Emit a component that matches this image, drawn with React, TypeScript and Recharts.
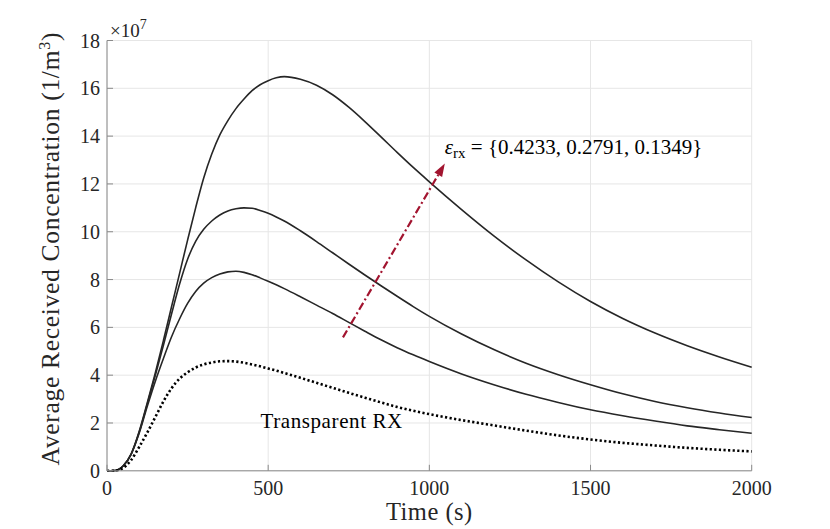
import { CartesianGrid, Line, LineChart, ReferenceDot, ReferenceLine, XAxis, YAxis } from "recharts"

// time in seconds, concentrations in units of 1e7 (1/m^3)
const time = [0, 25, 50, 75, 100, 125, 150, 175, 200, 225, 250, 275, 300, 325, 350, 375, 400, 425, 450, 475, 500, 525, 550, 600, 650, 700, 750, 800, 850, 900, 950, 1000, 1100, 1200, 1300, 1400, 1500, 1600, 1700, 1800, 1900, 2000]
const upper = [0, 0.01, 0.2, 0.7, 1.65, 2.85, 4.1, 5.45, 6.85, 8.25, 9.65, 11.0, 12.25, 13.25, 14.05, 14.65, 15.15, 15.55, 15.9, 16.15, 16.32, 16.44, 16.49, 16.38, 16.13, 15.73, 15.21, 14.61, 13.97, 13.32, 12.69, 12.09, 10.93, 9.83, 8.82, 7.9, 7.08, 6.37, 5.76, 5.23, 4.76, 4.33]
const middle = [0, 0.01, 0.2, 0.7, 1.62, 2.8, 4.0, 5.25, 6.55, 7.8, 8.85, 9.6, 10.1, 10.45, 10.7, 10.87, 10.96, 11.0, 10.98, 10.89, 10.77, 10.62, 10.45, 10.04, 9.59, 9.12, 8.65, 8.19, 7.74, 7.3, 6.87, 6.46, 5.72, 5.07, 4.5, 4.02, 3.6, 3.22, 2.9, 2.64, 2.42, 2.23]
const lower = [0, 0.01, 0.2, 0.7, 1.58, 2.7, 3.75, 4.7, 5.6, 6.35, 7.0, 7.5, 7.85, 8.08, 8.23, 8.32, 8.35, 8.3, 8.2, 8.07, 7.93, 7.78, 7.62, 7.28, 6.93, 6.58, 6.21, 5.84, 5.48, 5.15, 4.85, 4.57, 4.05, 3.6, 3.2, 2.86, 2.55, 2.3, 2.08, 1.88, 1.72, 1.57]
const transparent = [0, 0.01, 0.12, 0.45, 1.0, 1.6, 2.25, 2.9, 3.45, 3.85, 4.12, 4.32, 4.45, 4.53, 4.58, 4.59, 4.57, 4.52, 4.45, 4.37, 4.28, 4.19, 4.09, 3.89, 3.68, 3.47, 3.26, 3.06, 2.86, 2.67, 2.51, 2.37, 2.12, 1.9, 1.68, 1.48, 1.31, 1.17, 1.06, 0.96, 0.88, 0.81]

const xTicks = [0, 500, 1000, 1500, 2000]
const yTicks = [0, 2, 4, 6, 8, 10, 12, 14, 16, 18]

// arrow (data coords) and annotation anchors
const arrowStart = { x: 732, y: 5.58 }
const arrowEnd = { x: 1048, y: 12.85 }
const epsAnchor = { x: 1048, y: 13.27 }
const rxAnchor = { x: 476, y: 1.78 }

const data = time.map((t, i) => ({
  t,
  upper: upper[i],
  middle: middle[i],
  lower: lower[i],
  transparent: transparent[i],
}))

const font = "'Liberation Serif', 'Times New Roman', serif"
const ink = "#262626"
const axisColor = "#8a8a8a"
const red = "#a2142f"

function Arrow(props: any) {
  const { x1, y1, x2, y2 } = props
  const dx = x2 - x1
  const dy = y2 - y1
  const len = Math.sqrt(dx * dx + dy * dy)
  const ux = dx / len
  const uy = dy / len
  const head = 13
  const half = 4.5
  const bx = x2 - ux * head
  const by = y2 - uy * head
  return (
    <g>
      <line x1={x1} y1={y1} x2={bx} y2={by} stroke={red} strokeWidth={2.2} strokeDasharray="8 3 2 3" />
      <polygon
        points={`${x2},${y2} ${bx - uy * half},${by + ux * half} ${bx + uy * half},${by - ux * half}`}
        fill={red}
      />
    </g>
  )
}

export default function App() {
  return (
    <div style={{ position: "absolute", left: 0, top: 0, width: 830, height: 529, background: "#fff" }}>
      <LineChart
        width={830}
        height={529}
        data={data}
        margin={{ top: 40.5, right: 78.3, bottom: 0, left: 0 }}
        style={{ fontFamily: font }}
      >
        <CartesianGrid stroke="#e6e6e6" strokeWidth={1} />
        <XAxis
          dataKey="t"
          type="number"
          domain={[0, 2000]}
          ticks={xTicks}
          interval={0}
          height={58.2}
          stroke={axisColor}
          tickSize={-6}
          tickMargin={16}
          tick={{ fill: ink, fontSize: 20, fontFamily: font }}
          label={{
            value: "Time (s)",
            position: "insideBottom",
            offset: 9,
            fill: ink,
            fontSize: 24.5,
            fontFamily: font,
            style: { letterSpacing: 0.5 },
          }}
        />
        <XAxis
          xAxisId="top"
          orientation="top"
          type="number"
          domain={[0, 2000]}
          ticks={xTicks}
          interval={0}
          height={0}
          stroke={axisColor}
          tickSize={-6}
          tick={false}
        />
        <YAxis
          type="number"
          domain={[0, 18]}
          ticks={yTicks}
          interval={0}
          width={107}
          stroke={axisColor}
          tickSize={-6}
          tickMargin={13}
          tick={{ fill: ink, fontSize: 20, fontFamily: font }}
          label={{
            content: (p: any) => {
              const vb = p.viewBox
              const cx = vb.x + 59
              const cy = vb.y + vb.height / 2 - 7
              return (
                <text
                  x={cx}
                  y={cy}
                  transform={`rotate(-90 ${cx} ${cy})`}
                  textAnchor="middle"
                  fill={ink}
                  fontSize={25.5}
                  fontFamily={font}
                  style={{ letterSpacing: 0.7 }}
                >
                  Average Received Concentration (1/m
                  <tspan dy={-9} fontSize={16}>3</tspan>
                  <tspan dy={9}>)</tspan>
                </text>
              )
            },
          }}
        />
        <YAxis
          yAxisId="right"
          orientation="right"
          type="number"
          domain={[0, 18]}
          ticks={yTicks}
          interval={0}
          width={0}
          stroke={axisColor}
          tickSize={-6}
          tick={false}
        />
        <Line type="monotone" dataKey="upper" stroke={ink} strokeWidth={1.6} dot={false} isAnimationActive={false} />
        <Line type="monotone" dataKey="middle" stroke={ink} strokeWidth={1.6} dot={false} isAnimationActive={false} />
        <Line type="monotone" dataKey="lower" stroke={ink} strokeWidth={1.6} dot={false} isAnimationActive={false} />
        <Line
          type="monotone"
          dataKey="transparent"
          stroke="#000"
          strokeWidth={2.6}
          strokeDasharray="2.2 2.4"
          dot={false}
          isAnimationActive={false}
        />
        <ReferenceLine segment={[arrowStart, arrowEnd]} shape={Arrow} />
        <ReferenceDot
          x={epsAnchor.x}
          y={epsAnchor.y}
          r={0}
          ifOverflow="visible"
          shape={(p: any) => (
            <text x={p.cx} y={p.cy} fill="#000" fontSize={21} fontFamily={font}>
              <tspan fontStyle="italic">ε</tspan>
              <tspan dy={4} fontSize={15}>rx</tspan>
              <tspan dy={-4}> = {"{"}0.4233, 0.2791, 0.1349{"}"}</tspan>
            </text>
          )}
        />
        <ReferenceDot
          x={rxAnchor.x}
          y={rxAnchor.y}
          r={0}
          ifOverflow="visible"
          shape={(p: any) => (
            <text x={p.cx} y={p.cy} fill="#000" fontSize={21} fontFamily={font} style={{ letterSpacing: 0.6 }}>
              Transparent RX
            </text>
          )}
        />
        <ReferenceDot
          x={0}
          y={18}
          r={0}
          ifOverflow="visible"
          shape={(p: any) => (
            <text x={p.cx + 3} y={p.cy - 4} fill={ink} fontSize={19} fontFamily={font}>
              ×10
              <tspan dy={-8} fontSize={14}>7</tspan>
            </text>
          )}
        />
      </LineChart>
    </div>
  )
}
